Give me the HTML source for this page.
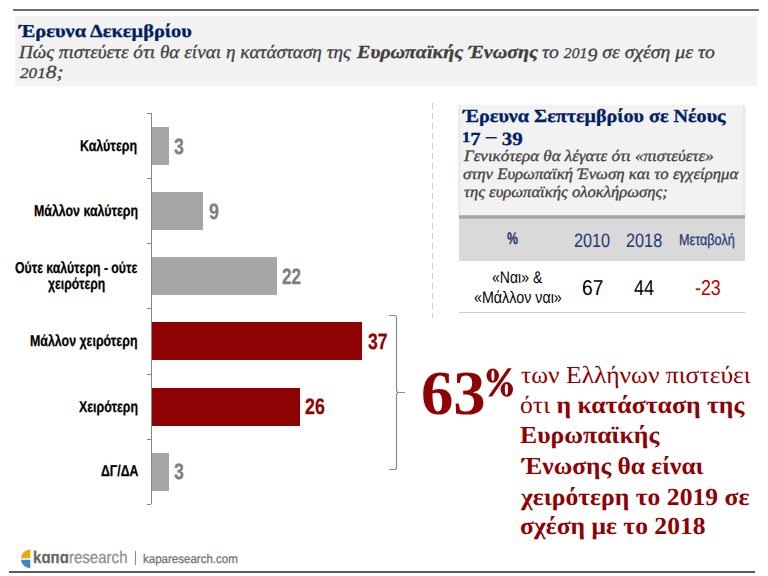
<!DOCTYPE html>
<html><head><meta charset="utf-8"><style>
.sk{-webkit-text-stroke:0.3px currentColor;}
.sk2{-webkit-text-stroke:0.25px currentColor;}
html,body{margin:0;padding:0;background:#fff;}
body{width:768px;height:576px;position:relative;overflow:hidden;text-rendering:geometricPrecision;}
.a{position:absolute;white-space:nowrap;}
.t{position:absolute;white-space:nowrap;line-height:1;transform-origin:0 0;}
#hline{left:13px;top:9px;width:746px;height:2px;background:#6e6e6e;}
#hbox{left:15px;top:16px;width:742px;height:70px;background:#f2f2f2;}
#axis{left:151px;top:113px;width:1px;height:391px;background:#868686;}
.tick{position:absolute;left:147px;width:4px;height:1px;background:#868686;}
.bar{position:absolute;left:152px;height:38px;}
.g{background:#a6a6a6;}
.r{background:#8e0204;}
#dash{left:432px;top:102.5px;width:1px;height:215.5px;background:repeating-linear-gradient(to bottom,#cfcfcf 0,#cfcfcf 6px,transparent 6px,transparent 10px);}
#rbox{left:459px;top:104.5px;width:285px;height:110.5px;background:#f2f2f2;box-shadow:inset 1px 0 0 #e6e6e6,inset -1px 0 0 #e8e8e8,-1px 0 1px rgba(0,0,0,0.05),1px 1px 2px rgba(0,0,0,0.12);}
#rsh{left:459px;top:215px;width:286px;height:4px;background:linear-gradient(to bottom,#c4c4c4 0,#a6a6a6 30%,#a4a4a4 65%,#c2c2c2 100%);}
#thead{left:459px;top:219px;width:286px;height:42px;background:#d9d9d9;}
#tline{left:459px;top:311.5px;width:286px;height:1.4px;background:#cdcdcd;}
</style></head><body>

<div class="a" id="hline"></div>
<div class="a" id="hbox"></div>
<div class="a" id="axis"></div>
<div class="tick" style="top:113.1px"></div>
<div class="tick" style="top:178.2px"></div>
<div class="tick" style="top:243.3px"></div>
<div class="tick" style="top:308.4px"></div>
<div class="tick" style="top:373.5px"></div>
<div class="tick" style="top:438.6px"></div>
<div class="tick" style="top:503.7px"></div>
<div class="bar g" style="top:127.2px;width:16.5px"></div>
<div class="bar g" style="top:192.3px;width:51px"></div>
<div class="bar g" style="top:257.4px;width:125px"></div>
<div class="bar r" style="top:322.4px;width:210px"></div>
<div class="bar r" style="top:387.5px;width:147.5px"></div>
<div class="bar g" style="top:452.6px;width:16.5px"></div>

<svg class="a" id="bracket" width="20" height="160" viewBox="0 0 20 160" style="left:386px;top:312px">
<path d="M3 3.5 H8.5 Q10.5 3.5 10.5 5.5 V78 Q10.5 80.5 12.5 80.5 H19 M10.5 83 Q10.5 80.5 12.5 80.5 M10.5 83 V155.5 Q10.5 157.5 8.5 157.5 H3" fill="none" stroke="#8a8a8a" stroke-width="1.2"/>
</svg>
<div class="a" id="dash"></div>
<div class="a" id="rbox"></div>
<div class="a" id="thead"></div>
<div class="a" id="rsh"></div>
<div class="a" id="tline"></div>
<svg class="a" id="logo" width="12" height="20" viewBox="0 0 12 20" style="left:20px;top:548.5px">
<path d="M10.3 0.5 A9.3 9.3 0 0 0 1 9.3 H10.3 Z" fill="#e8a90f"/>
<path d="M10.3 10.7 H1 A9.3 9.3 0 0 0 10.3 19.3 Z" fill="#3d86c6"/>
</svg>
<svg class="a" id="pct" width="40" height="40" viewBox="480 360 40 40" style="left:480px;top:360px">
<path fill="#8e0204" fill-rule="evenodd" d="M486.5 375.6 a6.25 7.2 0 1 0 12.5 0 a6.25 7.2 0 1 0 -12.5 0 Z M491.4 375.6 a1.5 5.3 0 1 0 3 0 a1.5 5.3 0 1 0 -3 0 Z M500.6 389.45 a6.2 7.35 0 1 0 12.4 0 a6.2 7.35 0 1 0 -12.4 0 Z M504.85 389.45 a1.6 5.45 0 1 0 3.2 0 a1.6 5.45 0 1 0 -3.2 0 Z M488.2 396.4 L492.1 396.4 L511.7 368.3 L507.7 368.3 Z"/>
</svg>
<div class="a" id="vbar" style="left:135px;top:550.5px;width:1.2px;height:14.5px;background:#8a8a8a"></div>
<div class="a" id="fline" style="left:9px;top:571px;width:746px;height:2px;background:#5a5a5a"></div>
<div class="t sk" id="ttl" style="left:19.07px;top:21.90px;font-family:'Liberation Serif',serif;font-size:18.3px;color:#002060;font-weight:bold;transform:scaleX(1.1161);">Έρευνα Δεκεμβρίου</div>
<div class="t sk" id="q1a" style="left:19.33px;top:43.61px;font-family:'Liberation Serif',serif;font-size:18.5px;color:#404040;font-style:italic;transform:scaleX(1.0379);">Πώς πιστεύετε ότι θα είναι η κατάσταση της</div>
<div class="t sk" id="q1b" style="left:356.64px;top:43.61px;font-family:'Liberation Serif',serif;font-size:18.5px;color:#404040;font-weight:bold;font-style:italic;transform:scaleX(1.0862);">Ευρωπαϊκής Ένωσης</div>
<div class="t sk" id="q1c" style="left:542.41px;top:43.60px;font-family:'Liberation Serif',serif;font-size:18.5px;color:#404040;font-style:italic;transform:scaleX(1.0654);">το <span style="font-size:0.8em">2</span><span style="font-size:0.8em">0</span><span style="font-size:0.8em">1</span><span style="position:relative;top:0.17em">9</span> σε σχέση με το</div>
<div class="t sk" id="q2" style="left:19.54px;top:63.90px;font-family:'Liberation Serif',serif;font-size:18.5px;color:#404040;font-style:italic;transform:scaleX(1.1597);"><span style="font-size:0.8em">2</span><span style="font-size:0.8em">0</span><span style="font-size:0.8em">1</span>8;</div>
<div class="t sk2" id="l1" style="left:80.32px;top:138.91px;font-family:'Liberation Sans',sans-serif;font-size:15.7px;color:#000;font-weight:bold;transform:scaleX(0.7937);">Καλύτερη</div>
<div class="t sk2" id="l2" style="left:33.54px;top:204.30px;font-family:'Liberation Sans',sans-serif;font-size:15.7px;color:#000;font-weight:bold;transform:scaleX(0.7886);">Μάλλον καλύτερη</div>
<div class="t sk2" id="l3a" style="left:15.26px;top:261.00px;font-family:'Liberation Sans',sans-serif;font-size:15.7px;color:#000;font-weight:bold;transform:scaleX(0.7816);">Ούτε καλύτερη - ούτε</div>
<div class="t sk2" id="l3b" style="left:48.13px;top:277.00px;font-family:'Liberation Sans',sans-serif;font-size:15.7px;color:#000;font-weight:bold;transform:scaleX(0.7797);">χειρότερη</div>
<div class="t sk2" id="l4" style="left:30.24px;top:334.30px;font-family:'Liberation Sans',sans-serif;font-size:15.7px;color:#000;font-weight:bold;transform:scaleX(0.7898);">Μάλλον χειρότερη</div>
<div class="t sk2" id="l5" style="left:78.59px;top:399.80px;font-family:'Liberation Sans',sans-serif;font-size:15.7px;color:#000;font-weight:bold;transform:scaleX(0.7882);">Χειρότερη</div>
<div class="t sk2" id="l6" style="left:100.79px;top:464.30px;font-family:'Liberation Sans',sans-serif;font-size:15.7px;color:#000;font-weight:bold;transform:scaleX(0.7845);">ΔΓ/ΔΑ</div>
<div class="t sk2" id="v1" style="left:174.48px;top:135.75px;font-family:'Liberation Sans',sans-serif;font-size:22.3px;color:#7f7f7f;font-weight:bold;transform:scaleX(0.7935);">3</div>
<div class="t sk2" id="v2" style="left:208.69px;top:200.80px;font-family:'Liberation Sans',sans-serif;font-size:22.3px;color:#7f7f7f;font-weight:bold;transform:scaleX(0.8039);">9</div>
<div class="t sk2" id="v3" style="left:282.07px;top:266.11px;font-family:'Liberation Sans',sans-serif;font-size:22.3px;color:#7f7f7f;font-weight:bold;transform:scaleX(0.7672);">22</div>
<div class="t sk2" id="v4" style="left:368.13px;top:331.00px;font-family:'Liberation Sans',sans-serif;font-size:22.3px;color:#8e0204;font-weight:bold;transform:scaleX(0.7860);">37</div>
<div class="t sk2" id="v5" style="left:304.98px;top:396.41px;font-family:'Liberation Sans',sans-serif;font-size:22.3px;color:#8e0204;font-weight:bold;transform:scaleX(0.7965);">26</div>
<div class="t sk2" id="v6" style="left:174.48px;top:461.41px;font-family:'Liberation Sans',sans-serif;font-size:22.3px;color:#7f7f7f;font-weight:bold;transform:scaleX(0.7935);">3</div>
<div class="t sk" id="rt1" style="left:463.22px;top:107.60px;font-family:'Liberation Serif',serif;font-size:18.5px;color:#002060;font-weight:bold;transform:scaleX(1.0857);">Έρευνα Σεπτεμβρίου σε Νέους</div>
<div class="t sk" id="rt2" style="left:462.12px;top:128.30px;font-family:'Liberation Serif',serif;font-size:18.5px;color:#002060;font-weight:bold;transform:scaleX(1.1305);"><span style="font-size:0.8em">1</span><span style="position:relative;top:0.17em">7</span> – <span style="position:relative;top:0.17em">3</span><span style="position:relative;top:0.17em">9</span></div>
<div class="t sk" id="rq1" style="left:464.23px;top:148.90px;font-family:'Liberation Serif',serif;font-size:15.9px;color:#404040;font-style:italic;transform:scaleX(1.0690);">Γενικότερα θα λέγατε ότι «πιστεύετε»</div>
<div class="t sk" id="rq2" style="left:463.43px;top:166.81px;font-family:'Liberation Serif',serif;font-size:15.9px;color:#404040;font-style:italic;transform:scaleX(1.0537);">στην Ευρωπαϊκή Ένωση και το εγχείρημα</div>
<div class="t sk" id="rq3" style="left:463.73px;top:184.61px;font-family:'Liberation Serif',serif;font-size:15.9px;color:#404040;font-style:italic;transform:scaleX(1.0471);">της ευρωπαϊκής ολοκλήρωσης;</div>
<div class="t sk2" id="hp" style="left:507.33px;top:231.41px;font-family:'Liberation Sans',sans-serif;font-size:16.8px;color:#1e3874;font-weight:bold;transform:scaleX(0.7373);">%</div>
<div class="t" id="h1" style="left:574.04px;top:232.11px;font-family:'Liberation Sans',sans-serif;font-size:19.4px;color:#1e3874;transform:scaleX(0.8377);">2010</div>
<div class="t" id="h2" style="left:626.06px;top:232.11px;font-family:'Liberation Sans',sans-serif;font-size:19.4px;color:#1e3874;transform:scaleX(0.8386);">2018</div>
<div class="t sk2" id="h3" style="left:678.75px;top:233.21px;font-family:'Liberation Sans',sans-serif;font-size:15.8px;color:#1e3874;transform:scaleX(0.8009);">Μεταβολή</div>
<div class="t" id="d0a" style="left:491.75px;top:269.71px;font-family:'Liberation Sans',sans-serif;font-size:16.9px;color:#000;transform:scaleX(0.8330);">«Ναι» &amp;</div>
<div class="t" id="d0b" style="left:473.56px;top:290.21px;font-family:'Liberation Sans',sans-serif;font-size:16.9px;color:#000;transform:scaleX(0.8464);">«Μάλλον ναι»</div>
<div class="t" id="d1" style="left:581.98px;top:276.91px;font-family:'Liberation Sans',sans-serif;font-size:21.6px;color:#000;transform:scaleX(0.8856);">67</div>
<div class="t" id="d2" style="left:634.01px;top:276.91px;font-family:'Liberation Sans',sans-serif;font-size:21.6px;color:#000;transform:scaleX(0.8314);">44</div>
<div class="t" id="d3" style="left:694.52px;top:276.91px;font-family:'Liberation Sans',sans-serif;font-size:21.6px;color:#c00000;transform:scaleX(0.8260);">-23</div>
<div class="t" id="big63" style="left:420.70px;top:361.91px;font-family:'Liberation Serif',serif;font-size:62.8px;color:#8e0204;font-weight:bold;transform:scaleX(1.0299);">63</div>
<div class="t" id="b1" style="left:521.24px;top:363.71px;font-family:'Liberation Serif',serif;font-size:24.4px;color:#8e0204;transform:scaleX(1.0475);">των Ελλήνων πιστεύει</div>
<div class="t" id="b2" style="left:520.24px;top:394.01px;font-family:'Liberation Serif',serif;font-size:24.4px;color:#8e0204;transform:scaleX(1.0546);">ότι <b>η κατάσταση της</b></div>
<div class="t" id="b3" style="left:520.16px;top:424.01px;font-family:'Liberation Serif',serif;font-size:24.4px;color:#8e0204;transform:scaleX(1.0551);"><b>Ευρωπαϊκής</b></div>
<div class="t" id="b4" style="left:521.78px;top:455.01px;font-family:'Liberation Serif',serif;font-size:24.4px;color:#8e0204;transform:scaleX(1.0417);"><b>Ένωσης θα είναι</b></div>
<div class="t" id="b5" style="left:521.43px;top:485.51px;font-family:'Liberation Serif',serif;font-size:24.4px;color:#8e0204;transform:scaleX(1.0513);"><b>χειρότερη το 2019 σε</b></div>
<div class="t" id="b6" style="left:520.17px;top:515.40px;font-family:'Liberation Serif',serif;font-size:24.4px;color:#8e0204;transform:scaleX(1.0493);"><b>σχέση με το 2018</b></div>
<div class="t sk2" id="kapa" style="left:32.98px;top:548.80px;font-family:'Liberation Sans',sans-serif;font-size:17px;color:#6b6b6b;transform:scaleX(0.8862);"><b style="color:#676767">kɑпɑ</b><span style="color:#8e8e8e">research</span></div>
<div class="t sk2" id="url" style="left:142.53px;top:552.50px;font-family:'Liberation Sans',sans-serif;font-size:12.5px;color:#707070;transform:scaleX(0.9225);">kaparesearch.com</div>
</body></html>
